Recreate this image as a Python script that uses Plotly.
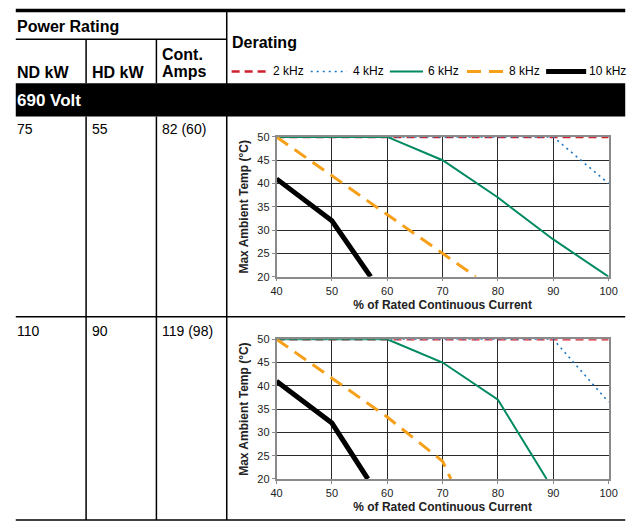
import plotly.graph_objects as go

W, H = 644, 527

# ---- table data ----
voltage_label = "690 Volt"
nd_kw = ["75", "110"]
hd_kw = ["55", "90"]
cont_amps = ["82 (60)", "119 (98)"]

series_names = ["2 kHz", "4 kHz", "6 kHz", "8 kHz", "10 kHz"]

# ---- derating curves, row 1 (75 kW) ----
x_2k_a = [40, 100]
y_2k_a = [50, 50]
x_4k_a = [40, 90, 100]
y_4k_a = [50, 50, 40]
x_6k_a = [40, 60, 70, 80, 90, 100]
y_6k_a = [50, 50, 45, 37, 28, 20]
x_8k_a = [40, 50, 60, 70, 76]
y_8k_a = [50, 41.7, 33.3, 25, 20]
x_10k_a = [40, 50, 57]
y_10k_a = [41, 32, 20]

# ---- derating curves, row 2 (110 kW) ----
x_2k_b = [40, 100]
y_2k_b = [50, 50]
x_4k_b = [40, 90, 100]
y_4k_b = [50, 50, 36.5]
x_6k_b = [40, 60, 70, 80, 88.8]
y_6k_b = [50, 50, 45, 37, 20]
x_8k_b = [40, 50, 60, 70, 71.5]
y_8k_b = [50, 41.7, 33.3, 23.8, 20]
x_10k_b = [40, 50, 56.5]
y_10k_b = [41, 32, 20]

x_ticks = [40, 50, 60, 70, 80, 90, 100]
y_ticks = [20, 25, 30, 35, 40, 45, 50]

styles = [
    dict(color="#d0202e", width=2.5, dash="8px,5px"),
    dict(color="#1a75c2", width=1.6, dash="2px,4px"),
    dict(color="#008a62", width=2),
    dict(color="#f6a01a", width=3, dash="14px,8px"),
    dict(color="#000000", width=5),
]

FONT = "Liberation Sans Narrow, Arial Narrow, Liberation Sans, Arial, sans-serif"
FONT_R = "Liberation Sans, Arial, sans-serif"

def px(x):
    return x / W

def py(y):
    return 1 - y / H

fig = go.Figure()

sets = [
    ([x_2k_a, x_4k_a, x_6k_a, x_8k_a, x_10k_a], [y_2k_a, y_4k_a, y_6k_a, y_8k_a, y_10k_a], "x", "y"),
    ([x_2k_b, x_4k_b, x_6k_b, x_8k_b, x_10k_b], [y_2k_b, y_4k_b, y_6k_b, y_8k_b, y_10k_b], "x2", "y2"),
]
for xs, ys, xa, ya in sets:
    for name, xv, yv, st in zip(series_names, xs, ys, styles):
        fig.add_trace(go.Scatter(x=xv, y=yv, mode="lines", name=name, line=st,
                                 xaxis=xa, yaxis=ya, showlegend=False, cliponaxis=False))

ax_common = dict(range=[40, 100], tickvals=x_ticks, showgrid=True, gridcolor="#2a2a2a", gridwidth=1.2,
                 showline=True, linecolor="#8a8a8a", linewidth=1.5, mirror=True, ticks="outside",
                 ticklen=3, tickcolor="#8a8a8a", tickfont=dict(family=FONT_R, size=11, color="#222"),
                 zeroline=False, fixedrange=True)
ay_common = dict(range=[20, 50], tickvals=y_ticks, showgrid=True, gridcolor="#2a2a2a", gridwidth=1.2,
                 showline=True, linecolor="#8a8a8a", linewidth=1.5, mirror=True, ticks="outside",
                 ticklen=3, tickcolor="#8a8a8a", tickfont=dict(family=FONT_R, size=11, color="#222"),
                 zeroline=False, fixedrange=True)

xdom = [px(277), px(617)]
xt = dict(text="<b>% of Rated Continuous Current</b>", font=dict(family=FONT, size=12, color="#222"), standoff=5)
yt = dict(text="<b>Max Ambient Temp (°C)</b>", font=dict(family=FONT, size=12, color="#222"), standoff=6)
fig.update_layout(
    width=W, height=H, margin=dict(l=0, r=0, t=0, b=0),
    paper_bgcolor="white", plot_bgcolor="white", showlegend=False,
    xaxis=dict(ax_common, domain=xdom, anchor="y", title=xt),
    yaxis=dict(ay_common, domain=[py(277), py(134)], anchor="x", title=yt),
    xaxis2=dict(ax_common, domain=xdom, anchor="y2", title=xt),
    yaxis2=dict(ay_common, domain=[py(484), py(341)], anchor="x2", title=yt),
)

shapes = []
def hline(x0, x1, y, w=1.5, c="black"):
    shapes.append(dict(type="line", xref="paper", yref="paper", x0=px(x0), x1=px(x1), y0=py(y), y1=py(y),
                       line=dict(color=c, width=w)))
def vline(x, y0, y1, w=1.5, c="black"):
    shapes.append(dict(type="line", xref="paper", yref="paper", x0=px(x), x1=px(x), y0=py(y0), y1=py(y1),
                       line=dict(color=c, width=w)))

hline(10, 634, 4.5, w=3.5)
hline(10, 226, 34)
vline(82, 34, 79)
vline(154, 34, 79)
vline(226, 6, 526)
shapes.append(dict(type="rect", xref="paper", yref="paper", x0=px(10), x1=px(634), y0=py(113), y1=py(79),
                   fillcolor="black", line=dict(width=0)))
vline(82, 113, 526)
vline(154, 113, 526)
hline(10, 634, 318)
hline(10, 634, 526)

# legend samples
leg_x = [(231, 267), (312, 349), (393, 427), (472, 509), (553, 594)]
leg_tx = [272, 354, 431, 514, 596]
for (x0, x1), st in zip(leg_x, styles):
    shapes.append(dict(type="line", xref="paper", yref="paper", x0=px(x0), x1=px(x1), y0=py(67), y1=py(67),
                       line=st))
fig.update_layout(shapes=shapes)

ann = []
def text(x, y, s, size=14, bold=False, color="black", family=FONT):
    ann.append(dict(xref="paper", yref="paper", x=px(x), y=py(y), text=f"<b>{s}</b>" if bold else s,
                    showarrow=False, xanchor="left", yanchor="middle", borderpad=0,
                    font=dict(family=family, size=size, color=color)))

text(10, 21, "Power Rating", 16, True)
text(10, 68, "ND kW", 16, True)
text(87, 68, "HD kW", 16, True)
text(159, 50, "Cont.", 16, True)
text(159, 67, "Amps", 16, True)
text(230, 37, "Derating", 16, True)
text(10, 97, voltage_label, 17, True, color="white")
for i, ty in enumerate([126, 333]):
    text(10, ty, nd_kw[i], 14, family=FONT_R)
    text(87, ty, hd_kw[i], 14, family=FONT_R)
    text(159, ty, cont_amps[i], 14, family=FONT_R)
for tx, name in zip(leg_tx, series_names):
    text(tx, 67, name, 12, family=FONT_R)
fig.update_layout(annotations=ann)

fig.write_html("out.html", config={"displayModeBar": False},
               post_script="document.body.style.margin='0';document.body.style.overflow='hidden';")
